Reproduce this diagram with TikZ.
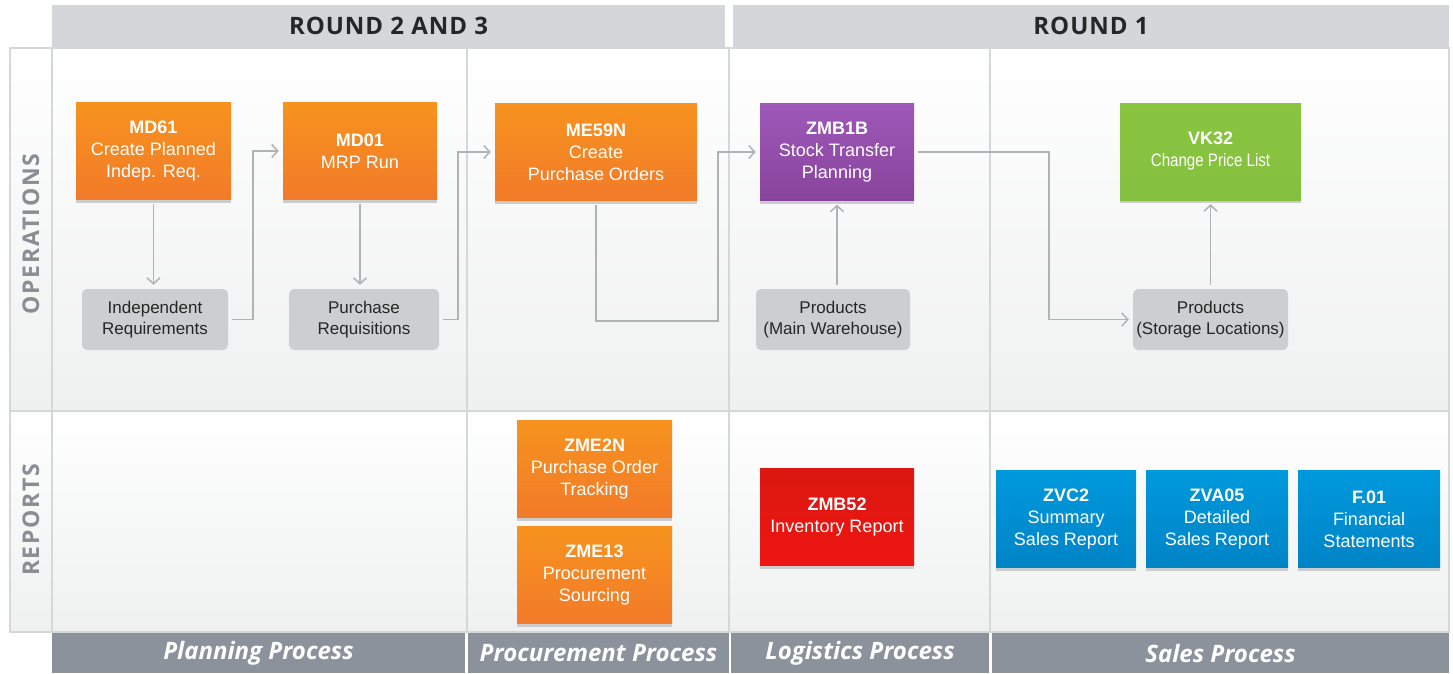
\documentclass[tikz,border=0pt]{standalone}
\usepackage{fontspec}
\setmainfont{Liberation Sans}
\newfontfamily\hdfont[LetterSpace=4]{Open Sans}
\newfontfamily\sidefont[LetterSpace=7]{Open Sans}
\newfontfamily\procfont{Open Sans}
\newfontfamily\narrowfont[FakeStretch=0.84]{Liberation Sans}
\usetikzlibrary{arrows.meta,shadows}

\definecolor{hdgray}{HTML}{D5D6D9}
\definecolor{ftgray}{HTML}{8C929C}
\definecolor{gridgray}{HTML}{D6D7D9}
\definecolor{sidetxt}{HTML}{8A8E94}
\definecolor{linegray}{HTML}{B0B2B6}
\definecolor{datgray}{HTML}{CDCED2}
\definecolor{bgbot}{HTML}{EFF0F0}
\definecolor{orgtop}{HTML}{F7931E}
\definecolor{orgbot}{HTML}{F27A29}
\definecolor{purtop}{HTML}{9E58B8}
\definecolor{purbot}{HTML}{88449C}
\definecolor{grntop}{HTML}{8AC540}
\definecolor{grnbot}{HTML}{84C040}
\definecolor{redtop}{HTML}{DA1710}
\definecolor{redbot}{HTML}{EF1612}
\definecolor{blutop}{HTML}{0099DD}
\definecolor{blubot}{HTML}{0084C6}

\tikzset{
  tcode/.style={minimum height=97pt, inner sep=2pt, align=center, text=white,
    font=\fontsize{18}{22}\selectfont,
    drop shadow={shadow xshift=0pt, shadow yshift=-3pt, fill=black!20, opacity=1}},
  orange/.style={tcode, top color=orgtop, bottom color=orgbot},
  purple/.style={tcode, top color=purtop, bottom color=purbot},
  green/.style={tcode, top color=grntop, bottom color=grnbot},
  red/.style={tcode, top color=redtop, bottom color=redbot},
  blue/.style={tcode, top color=blutop, bottom color=blubot},
  data/.style={fill=datgray, rounded corners=5pt, minimum height=61pt, inner sep=2pt,
    align=center, text=black!85, font=\fontsize{17}{21}\selectfont},
  conn/.style={draw=linegray, line width=1.5pt, -{Straight Barb[length=6pt,width=13pt]},
    shorten <=4pt, shorten >=4pt},
  grid/.style={draw=gridgray, line width=1.6pt},
  hdbar/.style={fill=hdgray, minimum height=42pt, inner sep=0pt,
    font=\hdfont\bfseries\fontsize{24}{24}\selectfont, text=black!85},
  ftbar/.style={fill=ftgray, minimum height=40pt, inner sep=0pt,
    font=\procfont\bfseries\itshape\fontsize{24}{24}\selectfont, text=white},
  sidelbl/.style={rotate=90, inner sep=0pt, text=sidetxt,
    font=\sidefont\bfseries\fontsize{23}{23}\selectfont}
}

\begin{document}
\begin{tikzpicture}[x=1pt, y=-1pt]

  \useasboundingbox (0,0) rectangle (1453,673);

  %% rows
  \shade[top color=white, bottom color=bgbot] (10,48) rectangle (1449,411);
  \shade[top color=white, bottom color=bgbot] (10,411) rectangle (1449,632);

  \draw[grid] (10,48) rectangle (1449,632);
  \draw[grid] (52,48) -- (52,632);
  \draw[grid] (10,411) -- (1449,411);
  \foreach \x in {467,729,990}
    \draw[grid] (\x,48) -- (\x,632);

  %% header and footer
  \node[hdbar, minimum width=673pt] (r23) at (388.5,26) {ROUND 2 AND 3};
  \node[hdbar, minimum width=716pt] (r1) at (1091,26) {ROUND 1};

  \node[ftbar, minimum width=413pt] (plan) at (258.5,653) {Planning Process};
  \node[ftbar, minimum width=261pt] (proc) at (598.5,653) {Procurement Process};
  \node[ftbar, minimum width=258pt] (logi) at (860,653) {Logistics Process};
  \node[ftbar, minimum width=457pt] (sale) at (1220.5,653) {Sales Process};

  \node[sidelbl] (ops) at (31,234) {OPERATIONS};
  \node[sidelbl] (rep) at (31,520) {REPORTS};

  %% operations
  \node[orange, minimum width=155pt] (md61) at (153.5,151) {\textbf{MD61}\\Create Planned\\Indep. Req.};
  \node[orange, minimum width=154pt] (md01) at (360,151) {\textbf{MD01}\\MRP Run};
  \node[orange, minimum width=202pt] (me59n) at (596,152) {\textbf{ME59N}\\Create\\Purchase Orders};
  \node[purple, minimum width=154pt] (zmb1b) at (837,152) {\textbf{ZMB1B}\\Stock Transfer\\Planning};
  \node[green, minimum width=181pt] (vk32) at (1210.5,151.5) {\textbf{VK32}\\{\narrowfont Change Price List}};

  \node[data, minimum width=146pt] (indreq) at (155,319.5) {Independent\\Requirements};
  \node[data, minimum width=150pt] (purreq) at (364,319.5) {Purchase\\Requisitions};
  \node[data, minimum width=154pt] (prodmw) at (833,319.5) {Products\\(Main Warehouse)};
  \node[data, minimum width=155pt] (prodsl) at (1210.5,319.5) {Products\\(Storage Locations)};

  %% reports
  \node[orange, minimum width=155pt] (zme2n) at (594.5,469) {\textbf{ZME2N}\\Purchase Order\\Tracking};
  \node[orange, minimum width=155pt] (zme13) at (594.5,575) {\textbf{ZME13}\\Procurement\\Sourcing};
  \node[red, minimum width=154pt] (zmb52) at (837,517) {\textbf{ZMB52}\\Inventory Report};
  \node[blue, minimum width=140pt] (zvc2) at (1066,519) {\textbf{ZVC2}\\Summary\\Sales Report};
  \node[blue, minimum width=142pt] (zva05) at (1217,519) {\textbf{ZVA05}\\Detailed\\Sales Report};
  \node[blue, minimum width=142pt] (f01) at (1369,519) {\textbf{F.01}\\Financial\\Statements};

  %% connectors
  \draw[conn] (md61.south) -- (md61.south |- indreq.north);
  \draw[conn] (indreq.east) -- ++(25,0) |- (md01.west); %% indreq->md01
  \draw[conn] (md01.south) -- (md01.south |- purreq.north);
  \draw[conn] (purreq.east) -- ++(19,0) |- (me59n.west); %% purreq->me59n
  \coordinate (bend) at (718,321);
  \draw[conn] (me59n.south) |- (bend) |- (zmb1b.west); %% me59n->zmb1b
  \draw[conn] (prodmw.north -| zmb1b.south) -- (zmb1b.south);
  \draw[conn] (zmb1b.east) -- ++(135,0) |- (prodsl.west); %% zmb1b->prodsl
  \draw[conn] (prodsl.north) -- (prodsl.north |- vk32.south);

\end{tikzpicture}
\end{document}
